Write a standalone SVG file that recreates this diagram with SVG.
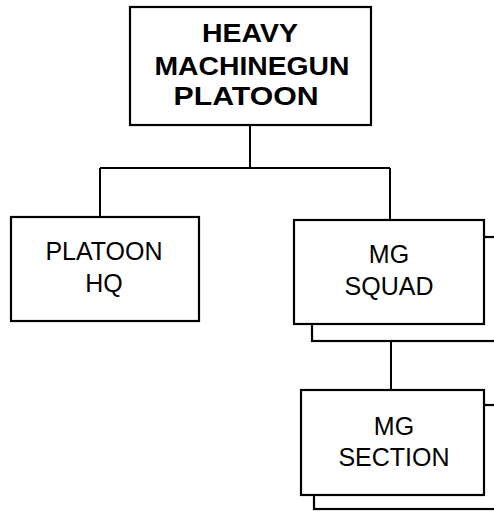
<svg xmlns="http://www.w3.org/2000/svg" width="494" height="511" viewBox="0 0 494 511">
<style>
.box{fill:#fff;stroke:#000;stroke-width:2.2}
.ln{fill:none;stroke:#000;stroke-width:2}
text{font-family:"Liberation Sans",Arial,sans-serif;font-size:25px;fill:#000;text-anchor:middle}
.b{font-weight:bold;font-size:26px}
</style>
<rect width="494" height="511" fill="#fff"/>
<g id="connectors">
<path class="ln" d="M250,125 V168 M100,168 H390 M100,168 V217 M390,168 V220 M391,341 V390"/>
</g>
<g id="platoon">
<rect class="box" x="130" y="7" width="241" height="118"/>
<text class="b" x="250" y="42" textLength="96" lengthAdjust="spacingAndGlyphs">HEAVY</text>
<text class="b" x="252" y="75" textLength="195" lengthAdjust="spacingAndGlyphs">MACHINEGUN</text>
<text class="b" x="246" y="105" textLength="145" lengthAdjust="spacingAndGlyphs">PLATOON</text>
</g>
<g id="hq">
<rect class="box" x="11" y="217" width="188" height="104"/>
<text x="104" y="260">PLATOON</text>
<text x="104" y="292">HQ</text>
</g>
<g id="squad">
<rect class="box" x="312" y="237" width="200" height="104"/>
<rect class="box" x="294" y="220" width="190" height="104"/>
<text x="389" y="263">MG</text>
<text x="389" y="295">SQUAD</text>
</g>
<g id="section">
<rect class="box" x="314" y="405" width="200" height="104"/>
<rect class="box" x="301" y="390" width="183" height="105"/>
<text x="394" y="435">MG</text>
<text x="394" y="466">SECTION</text>
</g>
</svg>
